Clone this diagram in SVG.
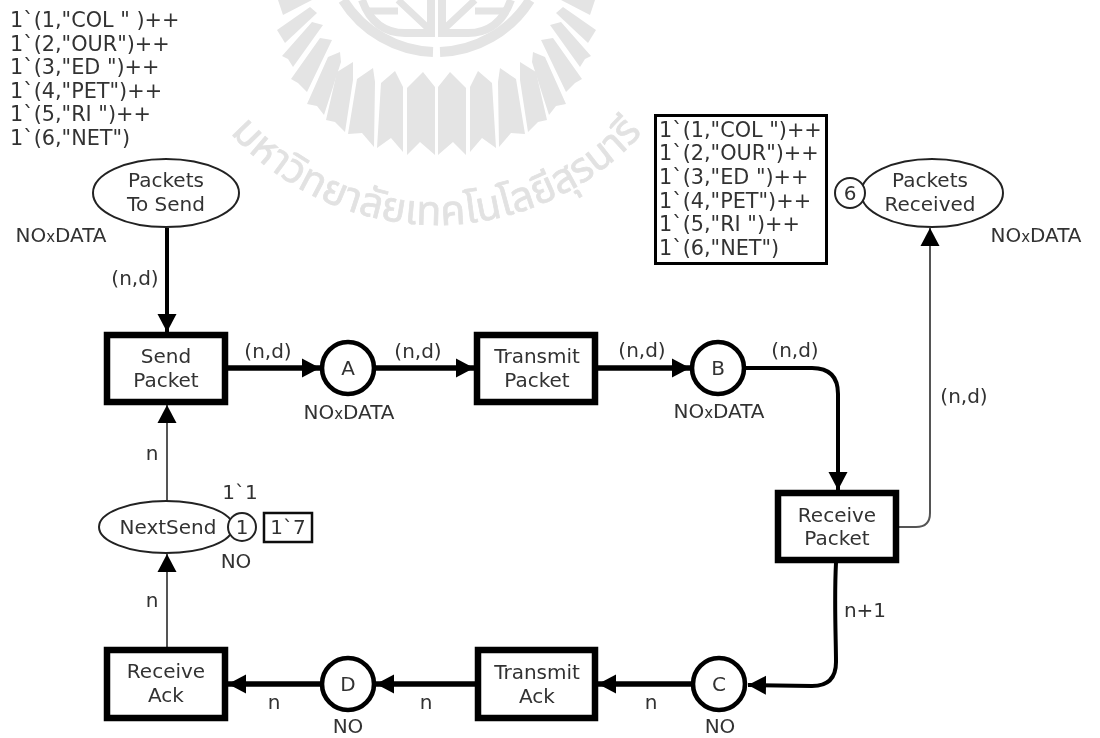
<svg xmlns="http://www.w3.org/2000/svg" width="1100" height="738" viewBox="0 0 1100 738">
<style>
text{font-family:"DejaVu Sans","Noto Sans",sans-serif;font-size:20px;fill:#333;text-anchor:middle}
.l{text-anchor:start;font-size:20.8px}
.x{font-size:15px}
.t{fill:#fff;stroke:#000;stroke-width:6.5}
.p{fill:#fff;stroke:#000;stroke-width:4.6}
.e{fill:#fff;stroke:#222;stroke-width:2}
.c{fill:none;stroke:#000;stroke-width:5.4}
.m{fill:none;stroke:#000;stroke-width:4}
.g{fill:none;stroke:#555;stroke-width:2}
.w polygon{fill:#e4e4e4;stroke:none}
.w path{fill:none;stroke:#e4e4e4}
.wt{font-family:"Noto Sans Thai","Noto Sans","DejaVu Sans",sans-serif;font-size:41px;fill:#e2e2e2;stroke:#e2e2e2;stroke-width:0.7;text-anchor:middle}
</style>
<defs>
<marker id="a" markerUnits="userSpaceOnUse" markerWidth="20" markerHeight="22" refX="18" refY="10" orient="auto"><path d="M0,0.500 L18,10 L0,19.500 z" fill="#000"/></marker>
<filter id="b" x="0" y="0" width="1" height="1" filterUnits="objectBoundingBox"><feGaussianBlur stdDeviation="0.55"/></filter>
<g id="wh" class="w">
<polygon points="423,72 435,87 435,155 420,142 407,155 407,88"/>
<polygon points="395,71 403,87 403,152 391,138 377,148 381,83"/>
<polygon points="373,68 375,82 374,147 362,133 348,134 357,79"/>
<polygon points="353,62 353,80 345,132 335,122 326,120 337,72"/>
<polygon points="340,52 341,62 324,115 317,106 307,104 328,57"/>
<polygon points="332,40 307,92 298,83 291,79 320,38"/>
<polygon points="323,25 293,67 288,59 282,56 312,22"/>
<polygon points="317,13 285,43 277,30 310,7"/>
<polygon points="312,0 283,15 278,0"/>
<path d="M433,52 A111,111 0 0 1 343,0" stroke-width="10"/>
<path d="M362,0 C370,22 385,33 405,33 L431,33 L431,0" stroke-width="8"/>
<path d="M368,11 L398,11 M398,0 L430,30" stroke-width="7"/>
</g>
<path id="arc" d="M205,100 A277,277 0 0 0 668,100"/>
</defs>
<rect width="1100" height="738" fill="#fff"/>
<g filter="url(#b)">
<g id="watermark">
<use href="#wh"/>
<use href="#wh" transform="translate(873,0) scale(-1,1)"/>
<text class="wt"><textPath href="#arc" startOffset="50%">มหาวิทยาลัยเทคโนโลยีสุรนารี</textPath></text>
</g>
<g id="connectors">
<path class="m" d="M167,228 V332" marker-end="url(#a)"/>
<path class="c" d="M228,368 H320" marker-end="url(#a)"/>
<path class="c" d="M376,368 H474" marker-end="url(#a)"/>
<path class="c" d="M598,368 H690" marker-end="url(#a)"/>
<path class="m" d="M746,368 H812 Q838,368 838,394 V490" marker-end="url(#a)"/>
<path class="g" d="M899,527 H916 Q930,527 930,513 V228" marker-end="url(#a)"/>
<path class="m" d="M836,563 C834,600 836,640 836,662 Q836,686 812,686 L748,685" marker-end="url(#a)"/>
<path class="c" d="M691,684 H598" marker-end="url(#a)"/>
<path class="c" d="M475,684 H376" marker-end="url(#a)"/>
<path class="c" d="M320,684 H228" marker-end="url(#a)"/>
<path class="g" d="M167,501 V405" marker-end="url(#a)"/>
<path class="g" d="M167,647 V554" marker-end="url(#a)"/>
</g>
<g id="send-packet"><rect class="t" x="107" y="335" width="118" height="67"/><text x="166" y="363">Send</text><text x="166" y="387">Packet</text></g>
<g id="transmit-packet"><rect class="t" x="477" y="335" width="118" height="67"/><text x="537" y="363">Transmit</text><text x="537" y="387">Packet</text></g>
<g id="receive-packet"><rect class="t" x="778" y="493" width="118" height="67"/><text x="837" y="522">Receive</text><text x="837" y="545">Packet</text></g>
<g id="transmit-ack"><rect class="t" x="478" y="650" width="117" height="68"/><text x="537" y="679">Transmit</text><text x="537" y="703">Ack</text></g>
<g id="receive-ack"><rect class="t" x="107" y="650" width="118" height="68"/><text x="166" y="678">Receive</text><text x="166" y="702">Ack</text></g>
<g id="place-a"><circle class="p" cx="348" cy="368" r="26"/><text x="348" y="375">A</text></g>
<g id="place-b"><circle class="p" cx="718" cy="368" r="26"/><text x="718" y="375">B</text></g>
<g id="place-c"><circle class="p" cx="719" cy="684" r="26"/><text x="719" y="691">C</text></g>
<g id="place-d"><circle class="p" cx="348" cy="684" r="26"/><text x="348" y="691">D</text></g>
<g id="packets-to-send"><ellipse class="e" cx="166" cy="193" rx="73" ry="34"/><text x="166" y="187">Packets</text><text x="166" y="211">To Send</text></g>
<g id="packets-received"><ellipse class="e" cx="932" cy="193" rx="71" ry="34"/><circle class="e" cx="850" cy="193" r="15"/><text x="850" y="200">6</text><text x="930" y="187">Packets</text><text x="930" y="211">Received</text></g>
<g id="next-send"><ellipse class="e" cx="166" cy="527" rx="67" ry="26"/><circle class="e" cx="242" cy="527" r="14"/><text x="168" y="534">NextSend</text><text x="242" y="534">1</text></g>
<g id="marking-next"><rect x="264" y="513" width="48" height="29" fill="#fff" stroke="#111" stroke-width="2.5"/><text x="288" y="534">1`7</text></g>
<g id="marking-received"><rect x="655.5" y="115.500" width="171" height="148" fill="#fff" stroke="#000" stroke-width="3"/>
<text class="l" x="659" y="137">1`(1,"COL ")++</text><text class="l" x="659" y="160">1`(2,"OUR")++</text><text class="l" x="659" y="184">1`(3,"ED ")++</text><text class="l" x="659" y="208">1`(4,"PET")++</text><text class="l" x="659" y="231">1`(5,"RI ")++</text><text class="l" x="659" y="255">1`(6,"NET")</text></g>
<g id="labels">
<text class="l" x="10" y="27">1`(1,"COL " )++</text><text class="l" x="10" y="51">1`(2,"OUR")++</text><text class="l" x="10" y="74">1`(3,"ED ")++</text><text class="l" x="10" y="98">1`(4,"PET")++</text><text class="l" x="10" y="121">1`(5,"RI ")++</text><text class="l" x="10" y="145">1`(6,"NET")</text>
<text x="61" y="242">NO<tspan class="x">x</tspan>DATA</text>
<text x="135" y="285">(n,d)</text><text x="268" y="358">(n,d)</text><text x="418" y="358">(n,d)</text><text x="642" y="357">(n,d)</text><text x="795" y="357">(n,d)</text><text x="964" y="403">(n,d)</text>
<text x="349" y="419">NO<tspan class="x">x</tspan>DATA</text><text x="719" y="418">NO<tspan class="x">x</tspan>DATA</text><text x="1036" y="242">NO<tspan class="x">x</tspan>DATA</text>
<text x="152" y="460">n</text><text x="152" y="607">n</text><text x="240" y="499">1`1</text><text x="236" y="568">NO</text>
<text x="274" y="709">n</text><text x="426" y="709">n</text><text x="651" y="709">n</text>
<text x="348" y="733">NO</text><text x="720" y="733">NO</text><text x="865" y="617">n+1</text>
</g>
</g>
</svg>
